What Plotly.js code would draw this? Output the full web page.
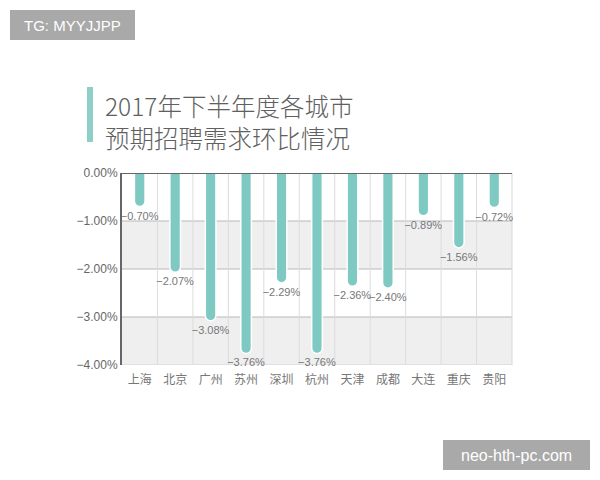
<!DOCTYPE html>
<html>
<head>
<meta charset="utf-8">
<script src="https://cdn.plot.ly/plotly-3.0.1.min.js"></script>
<style>html,body{margin:0;padding:0;background:#fff;}#chart{width:600px;height:480px;}</style>
</head>
<body>
<div id="chart"></div>
<script>
const cities = ["上海","北京","广州","苏州","深圳","杭州","天津","成都","大连","重庆","贵阳"];
const values = [-0.70,-2.07,-3.08,-3.76,-2.29,-3.76,-2.36,-2.40,-0.89,-1.56,-0.72];
const labels = ["−0.70%","−2.07%","−3.08%","−3.76%","−2.29%","−3.76%","−2.36%","−2.40%","−0.89%","−1.56%","−0.72%"];
const yTickVals = [0,-1,-2,-3,-4];
const yTickText = ["0.00%","−1.00%","−2.00%","−3.00%","−4.00%"];
const titleLines = ["2017年下半年度各城市","预期招聘需求环比情况"];
const bands = [[-1,-2],[-3,-4]];

const W=600,H=480,L=122,R=88,T=173,B=115;
const pw=W-L-R, ph=H-T-B;
const px=x=>(x-L)/pw, py=y=>(H-B-y)/ph;
const fontCJK='"Noto Sans CJK SC","Noto Sans",sans-serif';

const shapes=[];
bands.forEach(b=>shapes.push({type:'rect',xref:'paper',yref:'y',x0:0,x1:1,y0:b[0],y1:b[1],fillcolor:'#efeff0',line:{width:0},layer:'below'}));
[-1,-2,-3].forEach(v=>shapes.push({type:'line',xref:'paper',yref:'y',x0:0,x1:1,y0:v,y1:v,line:{color:'#b8b8b8',width:1},layer:'below'}));
for(let i=0;i<cities.length-1;i++){
  shapes.push({type:'line',xref:'x',yref:'y',x0:i+0.5,x1:i+0.5,y0:0,y1:-4,line:{color:'#dcdcdc',width:1},layer:'below'});
}
shapes.push({type:'line',xref:'paper',yref:'y',x0:1,x1:1,y0:0,y1:-4,line:{color:'#d6d6d6',width:1},layer:'below'});
shapes.push({type:'line',xref:'paper',yref:'y',x0:0,x1:1,y0:-4,y1:-4,line:{color:'#d0d0d0',width:1},layer:'below'});
shapes.push({type:'rect',xref:'paper',yref:'paper',x0:px(87),x1:px(93),y0:py(142),y1:py(87),fillcolor:'#8ecfc8',line:{width:0}});
shapes.push({type:'rect',xref:'paper',yref:'paper',x0:px(10),x1:px(135),y0:py(40),y1:py(10),fillcolor:'#a9a9a9',line:{width:0}});
shapes.push({type:'rect',xref:'paper',yref:'paper',x0:px(443),x1:px(590),y0:py(470),y1:py(440),fillcolor:'#a9a9a9',line:{width:0}});
shapes.push({type:'line',xref:'paper',yref:'y',x0:0,x1:1,y0:0,y1:0,line:{color:'#666',width:2}});

const annotations=[
  {xref:'paper',yref:'paper',x:px(103),y:py(86),xanchor:'left',yanchor:'top',align:'left',showarrow:false,
   text:titleLines.join('<br>'),font:{family:fontCJK,size:24.5,color:'#606060',weight:300}},
  {xref:'paper',yref:'paper',x:px(72.5),y:py(25),xanchor:'center',yanchor:'middle',showarrow:false,
   text:'TG: MYYJJPP',font:{family:'"Liberation Sans",Arial,sans-serif',size:15,color:'#fff'}},
  {xref:'paper',yref:'paper',x:px(516.5),y:py(455),xanchor:'center',yanchor:'middle',showarrow:false,
   text:'neo-hth-pc.com',font:{family:'"Liberation Sans",Arial,sans-serif',size:16,color:'#fff'}}
];

const trace={type:'bar',x:cities,y:values,width:0.3,text:labels,textposition:'outside',cliponaxis:false,
  constraintext:'none',
  textfont:{family:'"Liberation Sans",Arial,sans-serif',size:11,color:'#777'},
  marker:{color:'#7ecac3',line:{color:'#ffffff',width:1.5},cornerradius:6},hoverinfo:'skip'};

const layout={width:W,height:H,margin:{l:L,r:R,t:T,b:B,pad:0},paper_bgcolor:'#fff',plot_bgcolor:'#fff',
  showlegend:false,
  xaxis:{type:'category',showgrid:false,zeroline:false,showline:false,ticks:'',ticklabelstandoff:6,
    tickfont:{family:fontCJK,size:12,color:'#777'},fixedrange:true},
  yaxis:{range:[-4,0],tickvals:yTickVals,ticktext:yTickText,showgrid:false,zeroline:false,
    showline:true,linecolor:'#666',linewidth:2,ticks:'',ticklen:0,
    tickfont:{family:'"Liberation Sans",Arial,sans-serif',size:12,color:'#666'},fixedrange:true},
  shapes:shapes,annotations:annotations};

Plotly.newPlot('chart',[trace],layout,{displayModeBar:false,staticPlot:true});
</script>
</body>
</html>
